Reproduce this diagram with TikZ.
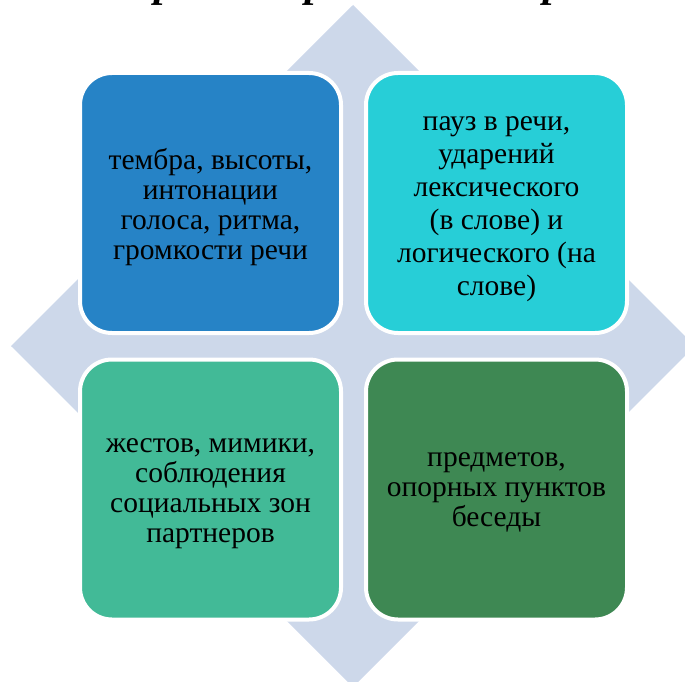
\documentclass[tikz,border=0pt]{standalone}
\usepackage{fontspec}
\setmainfont{Liberation Serif}
\definecolor{diam}{HTML}{CDD8EA}
\definecolor{cTL}{HTML}{2683C6}
\definecolor{cTR}{HTML}{27CED7}
\definecolor{cBL}{HTML}{42BA97}
\definecolor{cBR}{HTML}{3E8853}
\begin{document}
\begin{tikzpicture}[x=1pt,y=-1pt,
  cell/.style={draw=white,line width=4pt,rounded corners=32pt,minimum width=261pt,minimum height=260pt,inner sep=0pt},
  celltext/.style={align=center,font=\fontsize{29.5}{30}\selectfont,text=black},
  celltextwide/.style={align=center,font=\fontsize{29.5}{33}\selectfont,text=black},
  titlefrag/.style={anchor=base,font=\fontsize{42}{50}\selectfont\bfseries\itshape,inner sep=0pt}]
\useasboundingbox (0,0) rectangle (685,682);
\clip (0,0) rectangle (685,682);
\fill[diam] (353,5) -- (695,346) -- (353,687) -- (11,346) -- cycle;
\node[titlefrag] (t1) at (165,-3) {р};
\node[titlefrag] (t2) at (316,-3) {р};
\node[titlefrag] (t3) at (554,-3) {р};
\node[cell,fill=cTL] (tl) at (210.5,203) {};
\node[cell,fill=cTR] (tr) at (496.5,203) {};
\node[cell,fill=cBL] (bl) at (210.5,489.5) {};
\node[cell,fill=cBR] (br) at (496.5,489.5) {};
\node[celltext] (tlt) at ([yshift=-4pt]tl.center) {тембра, высоты,\\интонации\\голоса, ритма,\\громкости речи};
\node[celltextwide] (trt) at ([yshift=-6pt]tr.center) {пауз в речи,\\ударений\\лексического\\(в слове) и\\логического (на\\слове)};
\node[celltext] (blt) at ([yshift=-4pt]bl.center) {жестов, мимики,\\соблюдения\\социальных зон\\партнеров};
\node[celltext] (brt) at ([yshift=-3pt]br.center) {предметов,\\опорных пунктов\\беседы};
\end{tikzpicture}
\end{document}
